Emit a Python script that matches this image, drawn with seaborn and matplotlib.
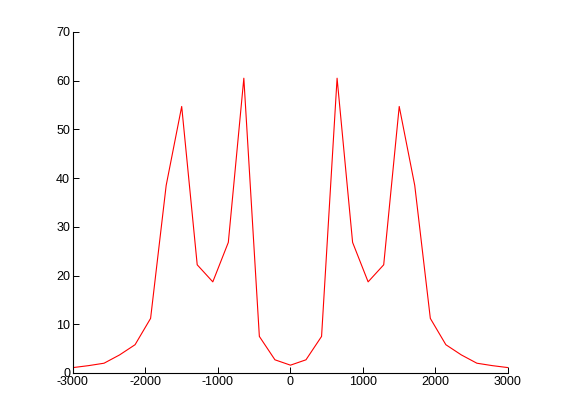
import numpy as np
import pandas as pd
import seaborn as sns
import matplotlib
matplotlib.use('Agg')
import matplotlib.pyplot as plt

# sample positions, 29 evenly spaced points
freq = [-3000, -2786, -2571, -2357, -2143, -1929, -1714, -1500, -1286, -1071,
        -857, -643, -429, -214, 0, 214, 429, 643, 857, 1071,
        1286, 1500, 1714, 1929, 2143, 2357, 2571, 2786, 3000]
# left half, right half mirrors it
half = [1.1, 1.5, 2.0, 3.7, 5.8, 11.2, 38.5, 54.7, 22.2, 18.7,
        26.8, 60.5, 7.5, 2.7]
mid = [1.6]
amp = half + mid + half[::-1]

xticks = [-3000, -2000, -1000, 0, 1000, 2000, 3000]
yticks = [0, 10, 20, 30, 40, 50, 60, 70]

sns.set_style('ticks')
plt.rcParams['font.family'] = ['Liberation Sans', 'DejaVu Sans']
plt.rcParams['axes.unicode_minus'] = False

df = pd.DataFrame({'freq': freq, 'amp': amp})

fig = plt.figure(figsize=(5.61, 4.2), dpi=100)
ax = fig.add_axes([0.13, 0.112, 0.7755, 0.812])
sns.lineplot(data=df, x='freq', y='amp', color='red', linewidth=0.8, ax=ax)

ax.set_xlim(-3000, 3000)
ax.set_ylim(0, 70)
ax.set_xticks(xticks)
ax.set_yticks(yticks)
ax.set_xlabel('')
ax.set_ylabel('')
ax.tick_params(direction='in', length=4, width=0.7, labelsize=9, pad=2,
               colors='black')
sns.despine(ax=ax)
for s in ['left', 'bottom']:
    ax.spines[s].set_linewidth(0.8)
    ax.spines[s].set_color('black')

fig.savefig('out.png', dpi=100)
